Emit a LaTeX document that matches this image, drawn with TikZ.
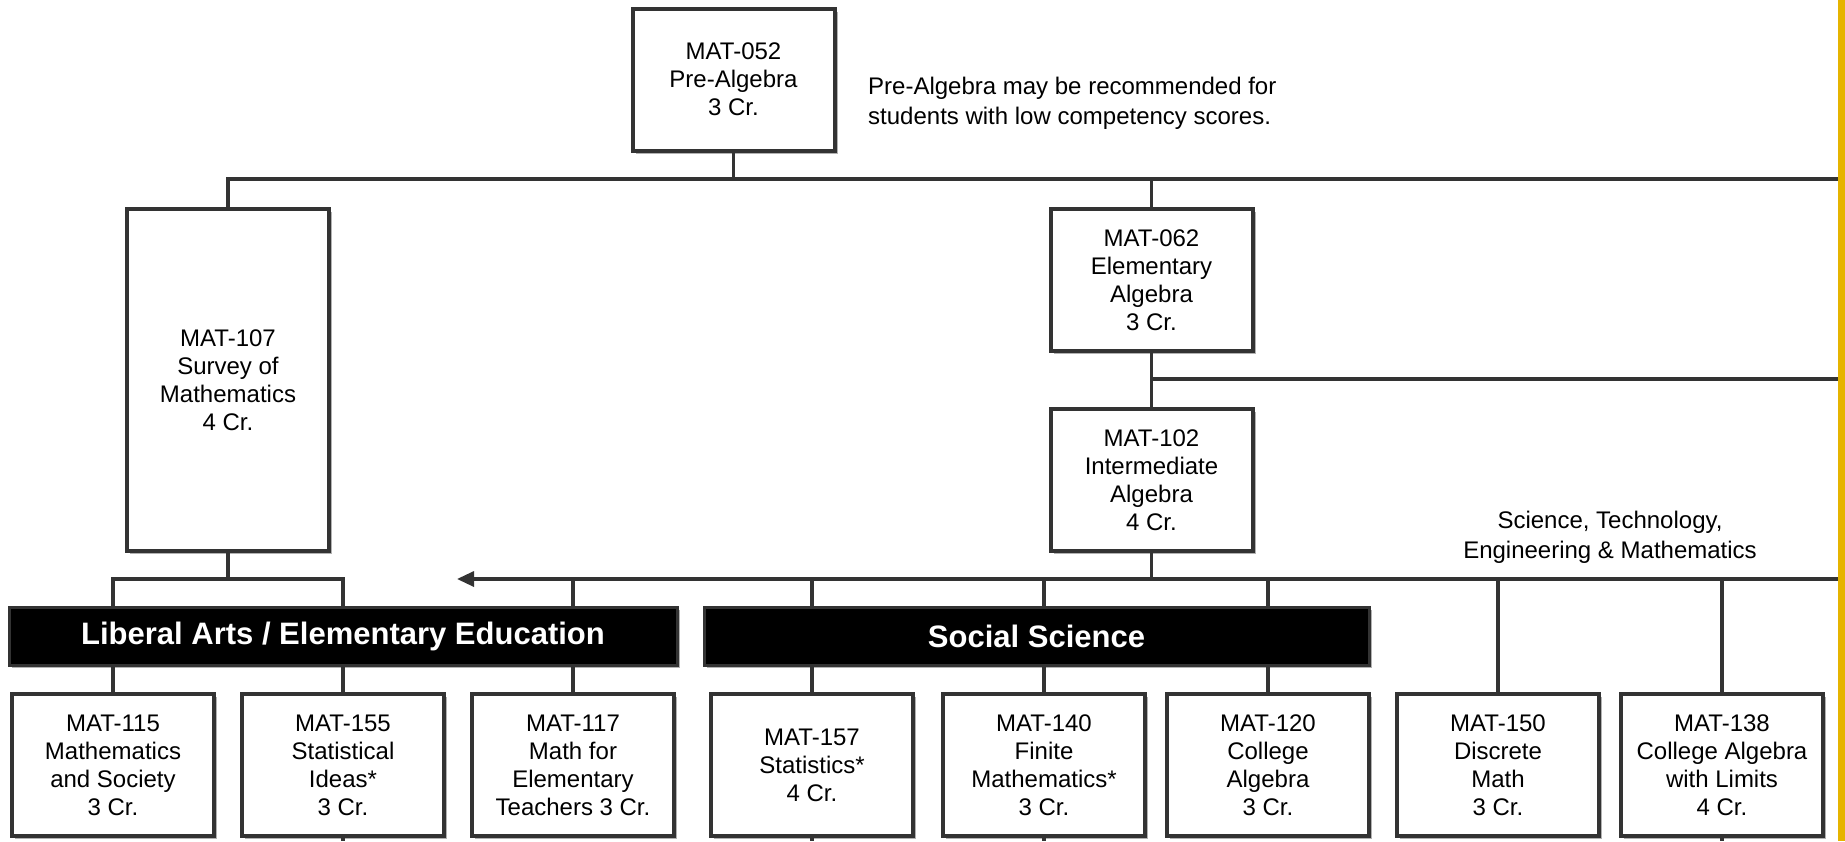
\documentclass[tikz,border=0pt]{standalone}
\usepackage{fontspec}
\setmainfont{Liberation Sans}
\usepackage{tikz}
\usetikzlibrary{positioning,shadows,arrows.meta}

\definecolor{linegray}{HTML}{333333}
\definecolor{edgegold}{HTML}{E6B400}

\tikzset{
  course/.style={draw=linegray, line width=4pt, fill=white, align=center,
    minimum width=202pt, minimum height=142pt, inner sep=0pt, outer sep=0pt,
    font=\fontsize{24}{28}\selectfont,
    drop shadow={shadow xshift=3pt, shadow yshift=-3pt, fill=black, opacity=0.3}},
  track/.style={draw=linegray, line width=3pt, fill=black, text=white,
    minimum height=58pt, inner sep=0pt, outer sep=0pt,
    font=\fontsize{31}{36}\selectfont\bfseries,
    drop shadow={shadow xshift=3pt, shadow yshift=-3pt, fill=black, opacity=0.3}},
  link/.style={draw=linegray, line width=3.3pt},
  note/.style={inner sep=0pt, font=\fontsize{24}{30}\selectfont},
}

\begin{document}
\begin{tikzpicture}[x=1pt,y=-1pt]
\useasboundingbox (0,0) rectangle (1845,841);
% nodes
\node[course] (m052) at (733.5,79.5) {MAT-052\\Pre-Algebra\\3 Cr.};%
\node[note, anchor=west, align=left] (hint) at (868,103) {Pre-Algebra may be recommended for\\students with low competency scores.};%
\node[course, minimum height=342pt] (m107) at (228,380) {MAT-107\\Survey of\\Mathematics\\4 Cr.};%
\node[course] (m062) at (1151.5,280) {MAT-062\\Elementary\\Algebra\\3 Cr.};%
\node[course, below=58pt of m062] (m102) {MAT-102\\Intermediate\\Algebra\\4 Cr.};%
\node[note, align=center] (stem) at (1610,537) {Science, Technology,\\Engineering \& Mathematics};%

\node[track, minimum width=668pt] (libarts) at (343,636) {Liberal Arts / Elementary Education};%
\node[track, minimum width=665pt, right=27pt of libarts] (social) {Social Science};%

\node[course] (m115) at (113,765) {MAT-115\\Mathematics\\and Society\\3 Cr.};%
\node[course, right=28pt of m115] (m155) {MAT-155\\Statistical\\Ideas*\\3 Cr.};%
\node[course, right=28pt of m155] (m117) {MAT-117\\Math for\\Elementary\\Teachers 3 Cr.};%
\node[course, right=37pt of m117] (m157) {MAT-157\\Statistics*\\4 Cr.};%
\node[course, right=30pt of m157] (m140) {MAT-140\\Finite\\Mathematics*\\3 Cr.};%
\node[course, right=22pt of m140] (m120) {MAT-120\\College\\Algebra\\3 Cr.};%
\node[course, right=28pt of m120] (m150) {MAT-150\\Discrete\\Math\\3 Cr.};%
\node[course, right=22pt of m150] (m138) {MAT-138\\College Algebra\\with Limits\\4 Cr.};%

% rails
\coordinate (rail1) at (1840,179);
\coordinate (rail2) at (1840,379);
\coordinate (rail3) at (1840,579);
\coordinate (fork) at (228,579);
\coordinate (arrowtip) at (457,579);
\coordinate (bottom) at (0,841);

% edges
\draw[link] (m052.south) -- (m052.south |- rail1);
\draw[link] (m107.north) -- (m107.north |- rail1) -- (rail1);
\draw[link] (m062.north |- rail1) -- (m062.north);
\draw[link] (m062.south) -- (m102.north);
\draw[link] (m062.south |- rail2) -- (rail2);
\draw[link] (m102.south) -- (m102.south |- rail3);
\draw[link, -{Triangle[length=17pt,width=15pt]}] (rail3) -- (arrowtip);

\draw[link] (m107.south) -- (fork);
\draw[link] (m115 |- libarts.north) -- (m115 |- fork) -- (m155 |- fork) -- (m155 |- libarts.north);
\draw[link] (m117 |- rail3) -- (m117 |- libarts.north);
\draw[link] (m157 |- rail3) -- (m157 |- social.north);
\draw[link] (m140 |- rail3) -- (m140 |- social.north);
\draw[link] (m120 |- rail3) -- (m120 |- social.north);
\draw[link] (m150 |- rail3) -- (m150.north);
\draw[link] (m138 |- rail3) -- (m138.north);

\draw[link] (m115 |- libarts.south) -- (m115.north);
\draw[link] (m155 |- libarts.south) -- (m155.north);
\draw[link] (m117 |- libarts.south) -- (m117.north);
\draw[link] (m157 |- social.south) -- (m157.north);
\draw[link] (m140 |- social.south) -- (m140.north);
\draw[link] (m120 |- social.south) -- (m120.north);

\draw[link] (m155.south) -- (m155.south |- bottom);
\draw[link] (m157.south) -- (m157.south |- bottom);
\draw[link] (m140.south) -- (m140.south |- bottom);
\draw[link] (m138.south) -- (m138.south |- bottom);

% page edge
\fill[edgegold] (1838,0) rectangle (1845,841);
\end{tikzpicture}
\end{document}
